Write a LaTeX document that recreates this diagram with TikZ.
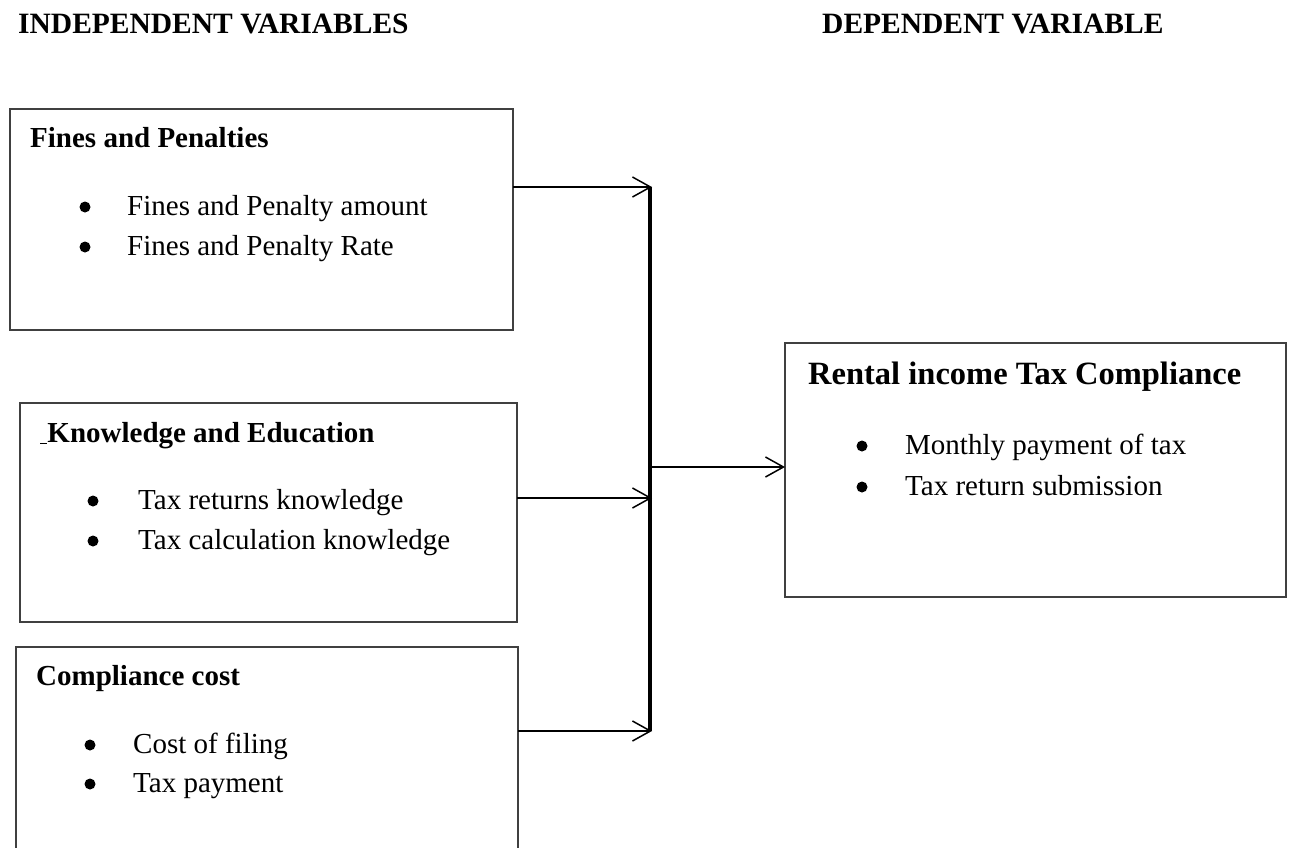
\documentclass[tikz,border=0pt]{standalone}
\usepackage{fontspec}
\setmainfont{Liberation Serif}
\usetikzlibrary{arrows.meta,calc}
\def\bulletitem(#1,#2)(#3)#4#5{\node[dot] (#4-dot) at ($(#1,#2)+(0,-8)$) {}; \node[item] (#4) at (#3,#2) {#5};}

\begin{document}
\begin{tikzpicture}[x=1pt,y=-1pt,
	varbox/.style={draw=black!75, line width=1.3pt, inner sep=0pt, outer sep=0pt, anchor=north west},
	heading/.style={anchor=base west, inner sep=0pt, font=\fontsize{29.5}{35}\selectfont\bfseries},
	boxtitle/.style={anchor=base west, inner sep=0pt, font=\fontsize{29}{35}\selectfont\bfseries},
	item/.style={anchor=base west, inner sep=0pt, font=\fontsize{29}{35}\selectfont},
	dot/.style={circle, fill=black, inner sep=0pt, minimum size=11pt},
	link/.style={line width=1.5pt, -{Straight Barb[length=18pt,width=20pt,line width=1.5pt]}}]
		%%%%% START %%%%%
		\useasboundingbox (0,0) rectangle (1293,847);
		
		\node[heading] (indep) at (18,33) {INDEPENDENT VARIABLES};
		\node[heading] (dep) at (822,33) {DEPENDENT VARIABLE};
		
		% fines and penalties
		\node[varbox, minimum width=503pt, minimum height=221pt] (fines) at (10,109) {};
		\node[boxtitle] (fines-title) at (30,147) {Fines and Penalties};
		\bulletitem(85,215)(127){fines-a}{Fines and Penalty amount}
		\bulletitem(85,255)(127){fines-b}{Fines and Penalty Rate}
		
		% knowledge and education
		\node[varbox, minimum width=497pt, minimum height=219pt] (know) at (20,403) {};
		\node[boxtitle] (know-title) at (40,442) {\underline{\ }Knowledge and Education};
		\bulletitem(93,509)(138){know-a}{Tax returns knowledge}
		\bulletitem(93,549)(138){know-b}{Tax calculation knowledge}
		
		% compliance cost (runs off the page)
		\node[varbox, minimum width=502pt, minimum height=260pt] (cost) at (16,647) {};
		\node[boxtitle] (cost-title) at (36,685) {Compliance cost};
		\bulletitem(90,753)(133){cost-a}{Cost of filing}
		\bulletitem(90,792)(133){cost-b}{Tax payment}
		
		% rental income tax compliance
		\node[varbox, minimum width=501pt, minimum height=254pt] (rent) at (785,343) {};
		\node[boxtitle, font=\fontsize{32.5}{40}\selectfont\bfseries] (rent-title) at (808,384) {Rental income Tax Compliance};
		\bulletitem(862,454)(905){rent-a}{Monthly payment of tax}
		\bulletitem(862,495)(905){rent-b}{Tax return submission}
		
		% joining bar
		\coordinate (bar-top) at (650,187);
		\coordinate (bar-mid) at (650,467);
		\coordinate (bar-bot) at (650,731);
		\draw[line width=3.5pt] (bar-top) -- (bar-bot);
		
		\draw[link] (fines.north east |- bar-top) -- ($(bar-top)+(2,0)$);
		\draw[link] (know.north east |- 0,498) -- ($(bar-top |- 0,498)+(2,0)$);
		\draw[link] (cost.north east |- bar-bot) -- ($(bar-bot)+(2,0)$);
		\draw[link] (bar-mid) -- (rent.north west |- bar-mid);
		%%%%% END %%%%%
	\end{tikzpicture}
\end{document}
